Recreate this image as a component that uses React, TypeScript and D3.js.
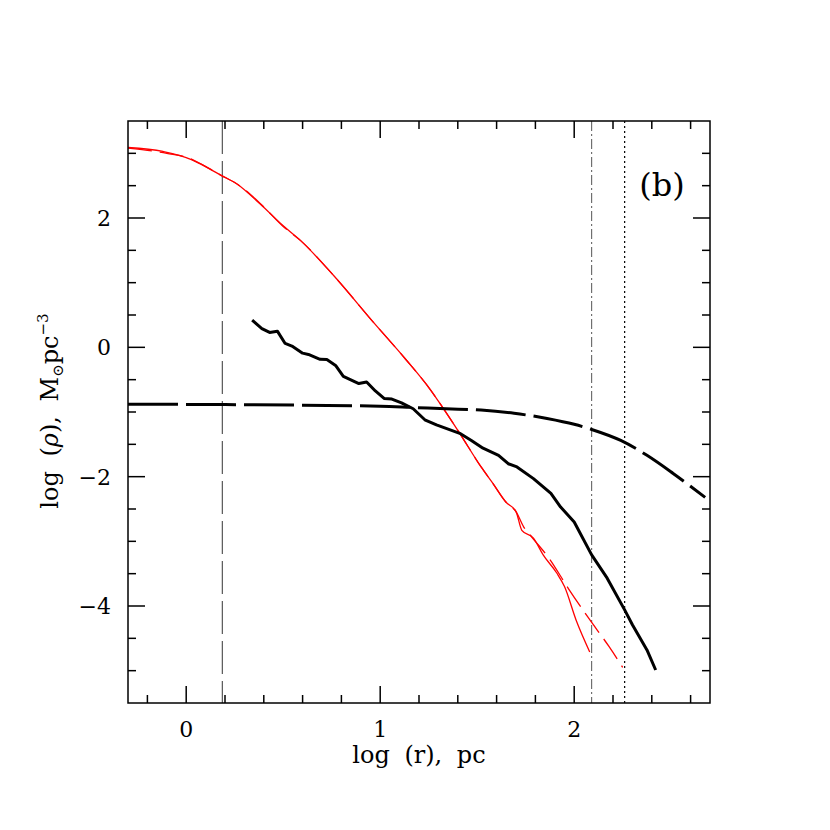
import React from 'react'
import * as d3 from 'd3'

// log r (pc) / log rho values
const redSolidX = [-0.3, -0.12, 0.03, 0.07, 0.18, 0.26, 0.38, 0.5, 0.59, 0.76, 0.97, 1.13, 1.26, 1.32, 1.41, 1.52, 1.58, 1.65, 1.7, 1.73, 1.79, 1.84, 1.91, 1.95, 2.01, 2.08];
const redSolidY = [3.09, 3.03, 2.9, 2.84, 2.66, 2.53, 2.22, 1.88, 1.65, 1.11, 0.37, -0.18, -0.66, -0.92, -1.33, -1.85, -2.1, -2.4, -2.54, -2.83, -2.95, -3.21, -3.49, -3.7, -4.22, -4.71];

const redDashX = [-0.3, -0.1, 0.02, 0.08, 0.18, 0.27, 0.38, 0.5, 0.59, 0.76, 0.97, 1.13, 1.26, 1.32, 1.41, 1.52, 1.58, 1.65, 1.7, 1.74, 1.78, 1.87, 1.97, 2.07, 2.18, 2.25];
const redDashY = [3.08, 3.0, 2.92, 2.83, 2.66, 2.51, 2.23, 1.87, 1.65, 1.11, 0.37, -0.18, -0.66, -0.92, -1.33, -1.85, -2.1, -2.4, -2.54, -2.78, -2.93, -3.26, -3.73, -4.17, -4.63, -4.95];

const blackSolidX = [0.34, 0.39, 0.43, 0.47, 0.51, 0.545, 0.6, 0.63, 0.69, 0.725, 0.77, 0.81, 0.89, 0.93, 0.975, 1.02, 1.06, 1.11, 1.17, 1.23, 1.29, 1.41, 1.47, 1.53, 1.61, 1.66, 1.705, 1.79, 1.88, 1.93, 2.0, 2.09, 2.17, 2.26, 2.3, 2.375, 2.42];
const blackSolidY = [0.42, 0.29, 0.23, 0.25, 0.06, 0.02, -0.09, -0.11, -0.185, -0.19, -0.28, -0.45, -0.56, -0.535, -0.675, -0.79, -0.8, -0.86, -0.95, -1.12, -1.2, -1.33, -1.44, -1.56, -1.67, -1.8, -1.85, -2.03, -2.26, -2.47, -2.7, -3.21, -3.57, -4.06, -4.29, -4.68, -4.99];

const blackDashX = [-0.3, 0.2, 0.6, 1.0, 1.17, 1.34, 1.52, 1.69, 1.86, 2.0, 2.09, 2.24, 2.375, 2.51, 2.675];
const blackDashY = [-0.88, -0.885, -0.895, -0.91, -0.93, -0.95, -0.97, -1.02, -1.1, -1.19, -1.27, -1.44, -1.67, -1.95, -2.32];

// vertical markers (log r)
const coreLine = 0.186;
const dashDotLine = 2.09;
const dottedLine = 2.26;

const xMajor = [0, 1, 2];
const xMinor = [-0.2, 0.2, 0.4, 0.6, 0.8, 1.2, 1.4, 1.6, 1.8, 2.2, 2.4, 2.6];
const yMajor = [-4, -2, 0, 2];
const yMinor = [-5, -4.5, -3.5, -3, -2.5, -1.5, -1, -0.5, 0.5, 1, 1.5, 2.5, 3];
const xLabels = ['0', '1', '2'];
const yLabels = ['\u22124', '\u22122', '0', '2'];

const W = 830, H = 830;
const left = 128, right = 710, top = 121, bottom = 703;
const font = 'DejaVu Serif';

function App() {
  const x = d3.scaleLinear().domain([-0.3, 2.7]).range([left, right]);
  const y = d3.scaleLinear().domain([-5.5, 3.5]).range([bottom, top]);

  const mkLine = (xs: number[], ys: number[], curve: any = d3.curveLinear) =>
    d3.line<number>().x((_, i) => x(xs[i])).y((_, i) => y(ys[i])).curve(curve)(xs) || '';

  const majorLen = 17, minorLen = 8;

  return (
    <svg width={W} height={H} style={{ position: 'absolute', left: 0, top: 0, background: '#fff' }}>
      <defs>
        <clipPath id="plot">
          <rect x={left} y={top} width={right - left} height={bottom - top} />
        </clipPath>
      </defs>

      {/* vertical marker lines */}
      <line x1={x(coreLine)} x2={x(coreLine)} y1={top} y2={bottom} stroke="#333" strokeWidth={1} strokeDasharray="33,7" />
      <line x1={x(dashDotLine)} x2={x(dashDotLine)} y1={top} y2={bottom} stroke="#555" strokeWidth={1} strokeDasharray="10,3,2,3" />
      <line x1={x(dottedLine)} x2={x(dottedLine)} y1={top} y2={bottom} stroke="#000" strokeWidth={1.2} strokeDasharray="2,3" />

      <g clipPath="url(#plot)" fill="none">
        <path d={mkLine(redDashX, redDashY, d3.curveMonotoneX)} stroke="#ff0000" strokeWidth={1.3} strokeDasharray="24,8" />
        <path d={mkLine(redSolidX, redSolidY, d3.curveMonotoneX)} stroke="#ff0000" strokeWidth={1.3} />
        <path d={mkLine(blackDashX, blackDashY, d3.curveMonotoneX)} stroke="#000" strokeWidth={3} strokeDasharray="50,8" />
        <path d={mkLine(blackSolidX, blackSolidY)} stroke="#000" strokeWidth={3} strokeLinejoin="round" />
      </g>

      {/* frame */}
      <rect x={left} y={top} width={right - left} height={bottom - top} fill="none" stroke="#000" strokeWidth={1.5} />

      {/* ticks on all four sides */}
      <g stroke="#000" strokeWidth={1.5}>
        {xMajor.map(v => (
          <g key={'xM' + v}>
            <line x1={x(v)} x2={x(v)} y1={bottom} y2={bottom - majorLen} />
            <line x1={x(v)} x2={x(v)} y1={top} y2={top + majorLen} />
          </g>
        ))}
        {xMinor.map(v => (
          <g key={'xm' + v}>
            <line x1={x(v)} x2={x(v)} y1={bottom} y2={bottom - minorLen} />
            <line x1={x(v)} x2={x(v)} y1={top} y2={top + minorLen} />
          </g>
        ))}
        {yMajor.map(v => (
          <g key={'yM' + v}>
            <line x1={left} x2={left + majorLen} y1={y(v)} y2={y(v)} />
            <line x1={right} x2={right - majorLen} y1={y(v)} y2={y(v)} />
          </g>
        ))}
        {yMinor.map(v => (
          <g key={'ym' + v}>
            <line x1={left} x2={left + minorLen} y1={y(v)} y2={y(v)} />
            <line x1={right} x2={right - minorLen} y1={y(v)} y2={y(v)} />
          </g>
        ))}
      </g>

      {/* tick labels */}
      <g fontFamily={font} fontSize={22} fill="#000">
        {xMajor.map((v, i) => (
          <text key={'xl' + v} x={x(v)} y={bottom + 34} textAnchor="middle">{xLabels[i]}</text>
        ))}
        {yMajor.map((v, i) => (
          <text key={'yl' + v} x={left - 17} y={y(v) + 8} textAnchor="end">{yLabels[i]}</text>
        ))}
      </g>

      {/* axis titles */}
      <text x={419} y={bottom + 60} textAnchor="middle" fontFamily={font} fontSize={24} style={{ wordSpacing: '7px' }}>
        log (r), pc
      </text>
      <text transform={`translate(58, 411) rotate(-90)`} textAnchor="middle" fontFamily={font} fontSize={24} style={{ wordSpacing: '7px' }}>
        log (<tspan fontStyle="italic">ρ</tspan>), M<tspan fontSize={15} dy={5}>⊙</tspan><tspan dy={-5}>pc</tspan><tspan fontSize={15} dy={-10}>−3</tspan>
      </text>

      <text x={662} y={196} textAnchor="middle" fontFamily={font} fontSize={32}>(b)</text>
    </svg>
  );
}

export default App;
